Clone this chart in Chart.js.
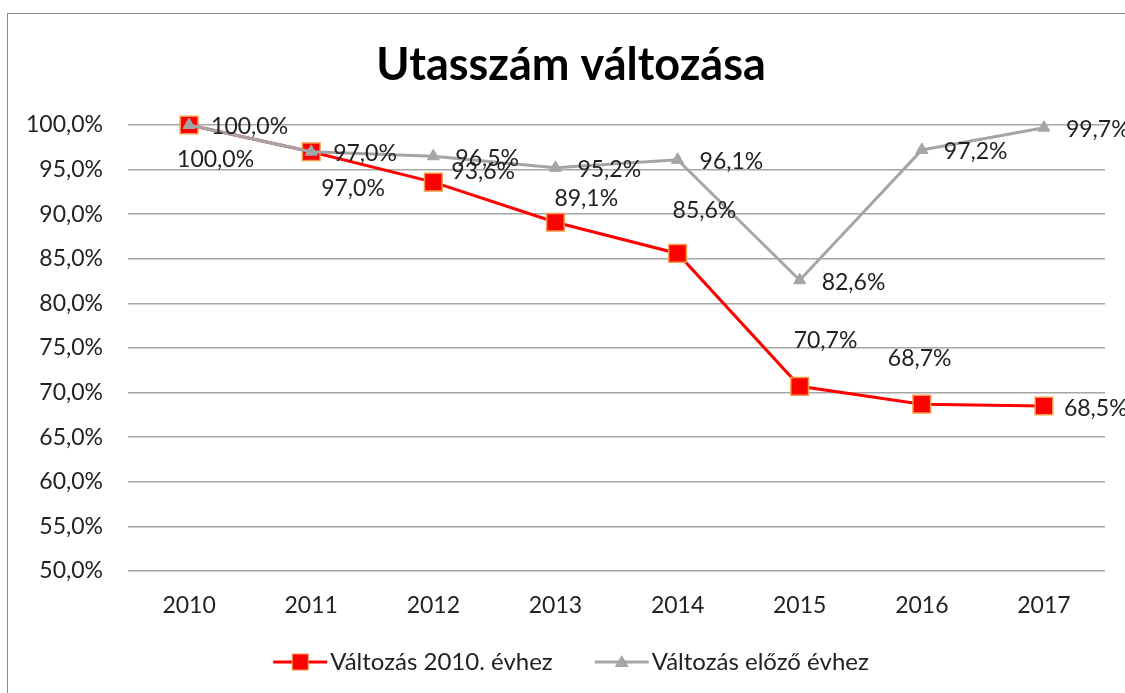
<!DOCTYPE html>
<html>
<head>
<meta charset="utf-8">
<script src="https://cdn.jsdelivr.net/npm/chart.js@4"></script>
<style>
  html, body { margin: 0; padding: 0; background: #fff; overflow: hidden; }
  #wrap {
    position: absolute; left: 7px; top: 13px;
    width: 1126px; height: 679px;
    border-top: 1px solid #8c8c8c; border-left: 1px solid #8c8c8c;
  }
</style>
</head>
<body>
<div id="wrap"><canvas id="chart"></canvas></div>
<script>
const years = ["2010", "2011", "2012", "2013", "2014", "2015", "2016", "2017"];
const vs2010 = [100.0, 97.0, 93.6, 89.1, 85.6, 70.7, 68.7, 68.5];
const vsPrev = [100.0, 97.0, 96.5, 95.2, 96.1, 82.6, 97.2, 99.7];
const seriesNames = ["Változás 2010. évhez", "Változás előző évhez"];

// label placement relative to each point (left edge dx, centre dy)
const redLabelPos = [[-12, 35], [10, 37], [18, -11], [-1, -24], [-5, -43], [-6, -46], [-34, -46], [20, 3]];
const grayLabelPos = [22, 2];

const RED = "#ff0000";
const GRAY = "#a5a5a5";
const TEXT = "#222222";
const FONT = "Lato";

function pct(v) {
  return v.toFixed(1).replace(".", ",") + "%";
}

// data labels like Excel
const valueLabels = {
  id: "valueLabels",
  afterDatasetsDraw(chart) {
    const ctx = chart.ctx;
    ctx.save();
    ctx.font = "23px " + FONT;
    ctx.fillStyle = TEXT;
    ctx.textAlign = "left";
    ctx.textBaseline = "middle";
    chart.getDatasetMeta(1).data.forEach((pt, j) => {
      ctx.fillText(pct(vsPrev[j]), pt.x + grayLabelPos[0], pt.y + grayLabelPos[1]);
    });
    chart.getDatasetMeta(0).data.forEach((pt, j) => {
      ctx.fillText(pct(vs2010[j]), pt.x + redLabelPos[j][0], pt.y + redLabelPos[j][1]);
    });
    ctx.restore();
  }
};

// legend with line + marker, drawn at the bottom
const lineLegend = {
  id: "lineLegend",
  afterDraw(chart) {
    const ctx = chart.ctx;
    const y = chart.height - 31;
    const lineLen = 54, gapText = 3, gapItem = 42;
    ctx.save();
    ctx.font = "24px " + FONT;
    const w0 = ctx.measureText(seriesNames[0]).width;
    const w1 = ctx.measureText(seriesNames[1]).width;
    const total = lineLen + gapText + w0 + gapItem + lineLen + gapText + w1;
    let x = chart.width / 2 - total / 2;

    // red item
    ctx.strokeStyle = RED; ctx.lineWidth = 3;
    ctx.beginPath(); ctx.moveTo(x, y); ctx.lineTo(x + lineLen, y); ctx.stroke();
    ctx.fillStyle = RED; ctx.strokeStyle = "#f59a4a"; ctx.lineWidth = 1;
    ctx.fillRect(x + lineLen / 2 - 8, y - 8, 16, 16);
    ctx.strokeRect(x + lineLen / 2 - 8, y - 8, 16, 16);
    x += lineLen + gapText;
    ctx.fillStyle = TEXT; ctx.textBaseline = "middle"; ctx.textAlign = "left";
    ctx.fillText(seriesNames[0], x, y);
    x += w0 + gapItem;

    // gray item
    ctx.strokeStyle = GRAY; ctx.lineWidth = 3;
    ctx.beginPath(); ctx.moveTo(x, y); ctx.lineTo(x + lineLen, y); ctx.stroke();
    ctx.fillStyle = GRAY;
    const cx = x + lineLen / 2;
    ctx.beginPath(); ctx.moveTo(cx, y - 7); ctx.lineTo(cx + 7, y + 5); ctx.lineTo(cx - 7, y + 5); ctx.closePath(); ctx.fill();
    x += lineLen + gapText;
    ctx.fillStyle = TEXT;
    ctx.fillText(seriesNames[1], x, y);
    ctx.restore();
  }
};

new Chart(document.getElementById("chart"), {
  type: "line",
  data: {
    labels: years,
    datasets: [
      {
        label: seriesNames[0],
        data: vs2010,
        borderColor: RED,
        backgroundColor: RED,
        borderWidth: 3,
        pointStyle: "rect",
        pointRadius: 12.5,
        pointBackgroundColor: RED,
        pointBorderColor: "#f59a4a",
        pointBorderWidth: 1.5,
        tension: 0,
        clip: false,
        order: 1
      },
      {
        label: seriesNames[1],
        data: vsPrev,
        borderColor: GRAY,
        backgroundColor: GRAY,
        borderWidth: 3,
        pointStyle: "triangle",
        pointRadius: 7,
        pointBackgroundColor: GRAY,
        pointBorderColor: GRAY,
        pointBorderWidth: 1,
        tension: 0,
        clip: false,
        order: 0
      }
    ]
  },
  options: {
    responsive: true,
    maintainAspectRatio: false,
    animation: false,
    layout: { padding: { left: 0, right: 0, top: 0, bottom: 66 } },
    plugins: {
      legend: { display: false },
      tooltip: { enabled: false },
      title: {
        display: true,
        text: "Utasszám változása",
        color: "#000",
        font: { family: FONT, size: 45, weight: "bold", lineHeight: 1.2 },
        padding: { top: 24, bottom: 33 }
      }
    },
    scales: {
      x: {
        offset: true,
        grid: { display: false, drawTicks: false },
        border: { display: false },
        ticks: { color: TEXT, font: { family: FONT, size: 23 }, padding: 21 },
        afterFit(scale) { scale.height = 56; }
      },
      y: {
        min: 50,
        max: 100,
        grid: { color: "#a6a6a6", lineWidth: 1.5, drawTicks: false },
        border: { display: false },
        ticks: {
          stepSize: 5,
          color: TEXT,
          font: { family: FONT, size: 23 },
          padding: 25,
          callback: (v) => pct(v)
        },
        afterFit(scale) { scale.width = 120; }
      },
      // empty right axis, only keeps room on the right of the plot
      yRight: {
        position: "right",
        display: true,
        grid: { display: false },
        border: { display: false },
        ticks: { display: false },
        afterFit(scale) { scale.width = 29; }
      }
    }
  },
  plugins: [valueLabels, lineLegend]
});
</script>
</body>
</html>
